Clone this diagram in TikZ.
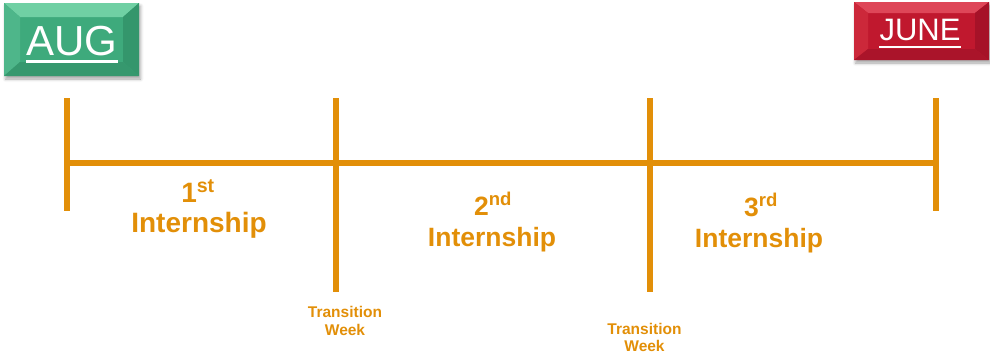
\documentclass[tikz,border=0pt]{standalone}
\usepackage{fontspec}
\setmainfont{Liberation Sans}
\usetikzlibrary{calc,shadows.blur}

\definecolor{tlorange}{RGB}{226,143,8}
\definecolor{augface}{RGB}{62,170,124}
\definecolor{augtop}{RGB}{112,208,164}
\definecolor{augleft}{RGB}{78,182,138}
\definecolor{augright}{RGB}{52,150,108}
\definecolor{augbottom}{RGB}{54,152,110}
\definecolor{junface}{RGB}{192,24,46}
\definecolor{juntop}{RGB}{222,70,88}
\definecolor{junleft}{RGB}{204,40,58}
\definecolor{junright}{RGB}{166,18,40}
\definecolor{junbottom}{RGB}{170,20,42}

\tikzset{
  tline/.style={draw=tlorange, line width=6pt},
  monthbox/.style={inner sep=0pt, outer sep=0pt,
    blur shadow={shadow xshift=1.5pt, shadow yshift=-3pt,
      shadow blur radius=3pt, shadow opacity=35}},
  monthtxt/.style={text=white, inner sep=0pt},
  uline/.style={draw=white, line width=2.2pt},
  numlbl/.style={text=tlorange, inner sep=0pt, anchor=base},
  twlbl/.style={text=tlorange, inner sep=0pt, anchor=base,
    font=\bfseries\fontsize{15.5}{18}\selectfont},
}

% bevel: four trapezoids between the outer edge and an inset
\newcommand{\bevelbox}[8]{%
  % #1 node, #2 dx, #3 dy, #4 face, #5 top, #6 left, #7 right, #8 bottom
  \fill[#5] (#1.north west) -- (#1.north east) -- ($(#1.north east)+(-#2,#3)$) -- ($(#1.north west)+(#2,#3)$) -- cycle;
  \fill[#6] (#1.north west) -- ($(#1.north west)+(#2,#3)$) -- ($(#1.south west)+(#2,-#3)$) -- (#1.south west) -- cycle;
  \fill[#7] (#1.north east) -- ($(#1.north east)+(-#2,#3)$) -- ($(#1.south east)+(-#2,-#3)$) -- (#1.south east) -- cycle;
  \fill[#8] (#1.south west) -- ($(#1.south west)+(#2,-#3)$) -- ($(#1.south east)+(-#2,-#3)$) -- (#1.south east) -- cycle;
}

\begin{document}
\begin{tikzpicture}[x=1pt, y=-1pt]
\useasboundingbox (0,0) rectangle (990,357);

% month boxes
\node[monthbox, fill=augface, minimum width=135pt, minimum height=73pt] (aug) at (71.5,39.5) {};
\bevelbox{aug}{16}{14}{augface}{augtop}{augleft}{augright}{augbottom}
\node[monthtxt, font=\fontsize{42}{46}\selectfont, anchor=base] (augtxt) at (72,55) {AUG};
\draw[uline] ($(augtxt.base west)+(0,6.5)$) -- ($(augtxt.base east)+(0,6.5)$);

\node[monthbox, fill=junface, minimum width=135pt, minimum height=58pt] (june) at (921.5,31) {};
\bevelbox{june}{14}{11}{junface}{juntop}{junleft}{junright}{junbottom}
\node[monthtxt, font=\fontsize{31}{34}\selectfont, anchor=base] (junetxt) at (920,40) {JUNE};
\draw[uline, line width=2pt] ($(junetxt.base west)+(0,6.5)$) -- ($(junetxt.base east)+(0,6.5)$);

% timeline
\coordinate (a0) at (67,98);   \coordinate (b0) at (67,211);
\coordinate (a1) at (336,98);  \coordinate (b1) at (336,292);
\coordinate (a2) at (649.5,98); \coordinate (b2) at (649.5,292);
\coordinate (a3) at (936,98);  \coordinate (b3) at (936,211);
\coordinate (h0) at (67,163);  \coordinate (h3) at (936,163);
\draw[tline] (h0) -- (h3);
\draw[tline] (a0) -- (b0);
\draw[tline] (a1) -- (b1);
\draw[tline] (a2) -- (b2);
\draw[tline] (a3) -- (b3);

% internship labels
\node[numlbl, font=\bfseries\fontsize{28}{30}\selectfont] (n1) at (198,202) {1\textsuperscript{st}};
\node[numlbl, font=\bfseries\fontsize{28}{30}\selectfont] (i1) at (199,232) {Internship};
\node[numlbl, font=\bfseries\fontsize{26.5}{29}\selectfont] (n2) at (493,215) {2\textsuperscript{nd}};
\node[numlbl, font=\bfseries\fontsize{26.5}{29}\selectfont] (i2) at (492,246.5) {Internship};
\node[numlbl, font=\bfseries\fontsize{26.5}{29}\selectfont] (n3) at (761,216) {3\textsuperscript{rd}};
\node[numlbl, font=\bfseries\fontsize{26.5}{29}\selectfont] (i3) at (759,247.5) {Internship};

% transition weeks
\node[twlbl] (tw1a) at (345,317) {Transition};
\node[twlbl] (tw1b) at (345,335.5) {Week};
\node[twlbl] (tw2a) at (644.5,334) {Transition};
\node[twlbl] (tw2b) at (644.5,351.5) {Week};
\end{tikzpicture}
\end{document}
